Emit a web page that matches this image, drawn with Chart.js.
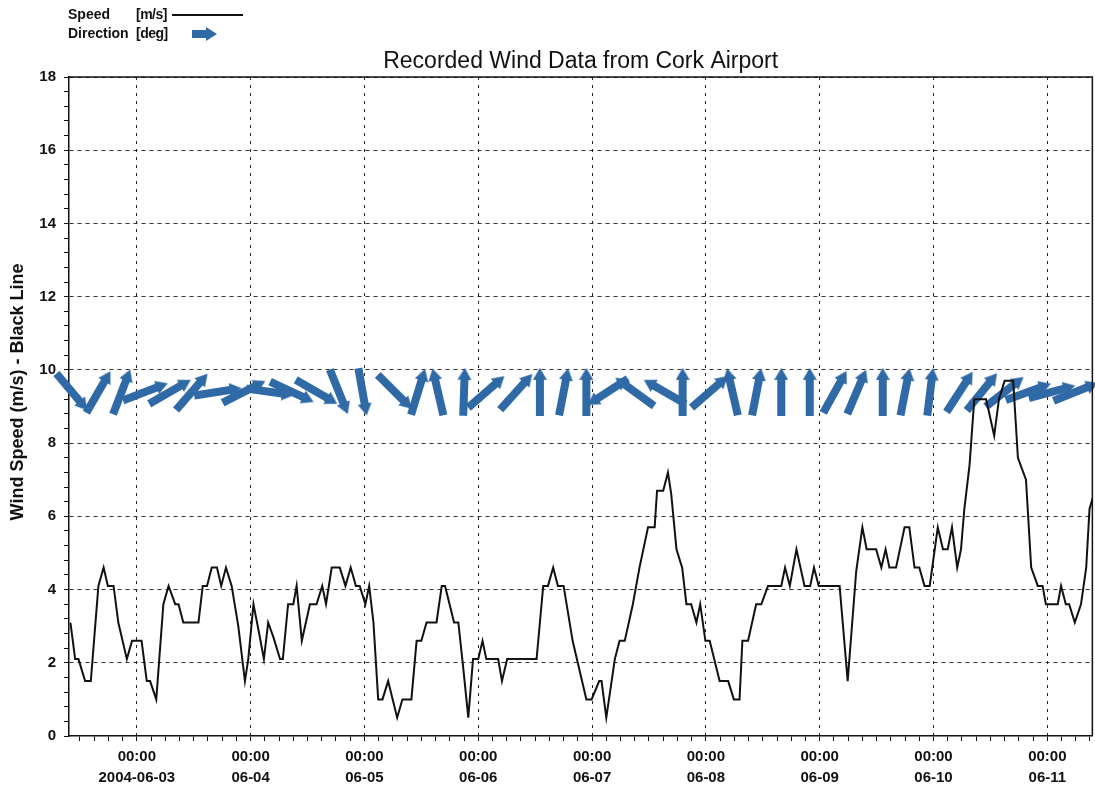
<!DOCTYPE html>
<html>
<head>
<meta charset="utf-8">
<title>Recorded Wind Data from Cork Airport</title>
<script src="https://cdn.jsdelivr.net/npm/chart.js@4.4.1/dist/chart.umd.min.js"></script>
<style>
    body { margin: 0; background: #fff; }
    #wrap { position: relative; width: 1095px; height: 787px; }
    #legend {
        position: absolute; left: 68px; top: 5px;
        font: bold 14px 'Liberation Sans Narrow', 'Liberation Sans', Arial, sans-serif;
        color: #111; line-height: 19px;
    }
    #legend .row { display: flex; align-items: center; height: 19px; }
    #legend .name { width: 68px; }
    #legend .unit { width: 34px; letter-spacing: -0.5px; }
    #legend .line { width: 71px; height: 2px; background: #111; margin-left: 2px; }
    #legend canvas { margin-left: 22px; }
</style>
</head>
<body>
<div id="wrap">
    <canvas id="windChart" width="1095" height="787"></canvas>
    <div id="legend">
        <div class="row"><span class="name">Speed</span><span class="unit">[m/s]</span><span class="line"></span></div>
        <div class="row"><span class="name">Direction</span><span class="unit">[deg]</span><canvas id="legendArrow" width="26" height="14"></canvas></div>
    </div>
</div>
<script>
// Wind data, hours counted from 2004-06-03 00:00
const chartTitle = 'Recorded Wind Data from Cork Airport';
const yAxisTitle = 'Wind Speed (m/s) - Black Line';
const timeLabel = '00:00';
const dayLabels = ['2004-06-03', '06-04', '06-05', '06-06', '06-07', '06-08', '06-09', '06-10', '06-11'];

const speedHours = [
    -14.0, -13.0, -12.3, -10.9, -9.7, -8.1, -7.0, -6.1, -4.9, -3.9, -2.1, -1.0, 1.0, 2.1, 2.8, 4.1,
    5.6, 6.7, 8.1, 8.8, 9.8, 13.0, 13.9, 14.8, 15.8, 16.9, 17.8, 18.8, 20.0, 21.4, 22.8, 23.5,
    24.6, 25.8, 26.8, 27.7, 28.8, 30.2, 30.8, 31.9, 33.0, 33.7, 34.8, 36.5, 37.9, 39.1, 39.9, 41.1,
    42.8, 44.0, 45.1, 46.2, 47.0, 48.2, 49.0, 49.9, 50.9, 51.8, 53.0, 54.9, 56.0, 57.9, 59.0, 60.0,
    61.1, 63.2, 64.3, 65.0, 66.9, 67.8, 68.8, 69.9, 70.9, 72.0, 72.9, 73.7, 76.2, 77.0, 78.1, 84.3,
    85.7, 86.7, 87.8, 88.8, 90.0, 91.9, 94.8, 95.9, 97.5, 98.0, 99.0, 100.8, 101.8, 102.9, 104.6, 106.0,
    107.8, 109.2, 109.7, 111.0, 112.0, 112.7, 113.8, 115.0, 115.9, 116.9, 118.0, 118.8, 119.9, 120.8, 122.9, 124.7,
    125.9, 127.1, 127.7, 128.9, 130.6, 131.7, 133.1, 135.9, 136.7, 137.7, 139.1, 140.8, 142.0, 142.8, 143.8, 148.2,
    149.9, 151.7, 153.0, 153.9, 155.9, 157.0, 157.9, 158.7, 160.1, 161.9, 162.9, 164.0, 165.0, 166.1, 167.2, 168.9,
    170.0, 171.0, 171.9, 173.0, 173.8, 174.5, 175.6, 176.6, 177.3, 179.1, 180.8, 181.8, 183.0, 184.8, 185.8, 187.5,
    188.6, 190.0, 191.0, 191.7, 194.2, 194.9, 195.9, 196.6, 197.8, 199.1, 200.2, 200.9, 201.8
];
const speedValues = [
    3.1, 2.1, 2.1, 1.5, 1.5, 4.1, 4.6, 4.1, 4.1, 3.1, 2.1, 2.6, 2.6, 1.5, 1.5, 1.0,
    3.6, 4.1, 3.6, 3.6, 3.1, 3.1, 4.1, 4.1, 4.6, 4.6, 4.1, 4.6, 4.1, 3.0, 1.5, 2.1,
    3.6, 2.8, 2.1, 3.1, 2.7, 2.1, 2.1, 3.6, 3.6, 4.1, 2.6, 3.6, 3.6, 4.1, 3.6, 4.6,
    4.6, 4.1, 4.6, 4.1, 4.1, 3.6, 4.1, 3.1, 1.0, 1.0, 1.5, 0.5, 1.0, 1.0, 2.6, 2.6,
    3.1, 3.1, 4.1, 4.1, 3.1, 3.1, 1.9, 0.5, 2.1, 2.1, 2.6, 2.1, 2.1, 1.5, 2.1, 2.1,
    4.1, 4.1, 4.6, 4.1, 4.1, 2.6, 1.0, 1.0, 1.5, 1.5, 0.5, 2.1, 2.6, 2.6, 3.6, 4.6,
    5.7, 5.7, 6.7, 6.7, 7.2, 6.6, 5.1, 4.6, 3.6, 3.6, 3.1, 3.6, 2.6, 2.6, 1.5, 1.5,
    1.0, 1.0, 2.6, 2.6, 3.6, 3.6, 4.1, 4.1, 4.6, 4.1, 5.1, 4.1, 4.1, 4.6, 4.1, 4.1,
    1.5, 4.5, 5.7, 5.1, 5.1, 4.6, 5.1, 4.6, 4.6, 5.7, 5.7, 4.6, 4.6, 4.1, 4.1, 5.7,
    5.1, 5.1, 5.7, 4.6, 5.1, 6.2, 7.4, 9.2, 9.2, 9.2, 8.2, 9.2, 9.7, 9.7, 7.6, 7.0,
    4.6, 4.1, 4.1, 3.6, 3.6, 4.1, 3.6, 3.6, 3.1, 3.6, 4.6, 6.2, 6.6
];

// Direction arrows: time, wind direction (deg, blowing from) and the level they are drawn at
const arrowHours = [
    -13.7, -8.1, -3.2, 1.8, 7.0, 11.6, 17.1, 22.6, 28.1, 32.7, 37.9, 42.6, 47.6, 54.4,
    59.3, 63.5, 69.0, 73.7, 80.0, 85.0, 90.0, 94.8, 99.3, 105.0, 111.3, 115.1, 120.8, 125.6,
    130.7, 135.9, 141.9, 147.2, 151.8, 157.3, 162.0, 167.3, 173.5, 178.2, 183.0, 188.0, 193.0, 198.0
];
const arrowDirections = [
    320, 210, 201, 249, 240, 221, 261, 243, 278, 295, 300, 338, 350, 315,
    197, 167, 182, 229, 222, 180, 191, 180, 57, 126, 120, 180, 229, 167,
    191, 180, 180, 209, 203, 180, 191, 187, 213, 219, 232, 250, 255, 248
];
const arrowLevel = 9.4;

const yMax = 18;
const arrowColor = '#2f69a6';

document.addEventListener('DOMContentLoaded', () => {
    const arrowImg = makeArrow(48, 14);
    drawLegendArrow();
    setupChart(arrowImg);
});

// Arrow sprite pointing right, rotated per point by Chart.js
function makeArrow(len, h) {
    const c = document.createElement('canvas');
    c.width = len;
    c.height = h;
    const g = c.getContext('2d');
    g.fillStyle = arrowColor;
    g.fillRect(0, h / 2 - 4, len - 10, 8);
    g.beginPath();
    g.moveTo(len - 12, 0);
    g.lineTo(len, h / 2);
    g.lineTo(len - 12, h);
    g.closePath();
    g.fill();
    return c;
}

function drawLegendArrow() {
    const c = document.getElementById('legendArrow');
    const g = c.getContext('2d');
    g.fillStyle = arrowColor;
    g.fillRect(0, 3, 16, 8);
    g.beginPath();
    g.moveTo(14, 0);
    g.lineTo(25, 7);
    g.lineTo(14, 14);
    g.closePath();
    g.fill();
}

function setupChart(arrowImg) {
    const tickFont = "'Liberation Sans Narrow', 'Liberation Sans', Arial, sans-serif";
    const mainFont = "'Liberation Sans', Arial, sans-serif";

    // Title centred over the plot area, y title beside the axis
    const plotTitles = {
        id: 'plotTitles',
        afterDraw(chart) {
            const { ctx, chartArea } = chart;
            ctx.save();
            ctx.fillStyle = '#111';
            ctx.textAlign = 'center';
            ctx.font = '23px ' + mainFont;
            ctx.textBaseline = 'alphabetic';
            ctx.fillText(chartTitle, (chartArea.left + chartArea.right) / 2, chartArea.top - 9);
            ctx.translate(18, 392);
            ctx.rotate(-Math.PI / 2);
            ctx.font = 'bold 18px ' + mainFont;
            ctx.textBaseline = 'middle';
            ctx.fillText(yAxisTitle, 0, 0);
            ctx.restore();
        }
    };

    const frame = {
        id: 'frame',
        afterDatasetsDraw(chart) {
            const { ctx, chartArea } = chart;
            ctx.save();
            ctx.strokeStyle = '#111';
            ctx.lineWidth = 1.5;
            ctx.beginPath();
            ctx.moveTo(chartArea.left, chartArea.top);
            ctx.lineTo(chartArea.right, chartArea.top);
            ctx.lineTo(chartArea.right, chartArea.bottom);
            ctx.stroke();
            ctx.restore();
        }
    };

    new Chart(document.getElementById('windChart'), {
        type: 'line',
        data: {
            datasets: [{
                label: 'Speed [m/s]',
                data: speedHours.map((h, i) => ({ x: h, y: speedValues[i] })),
                borderColor: '#111',
                borderWidth: 2,
                pointRadius: 0,
                tension: 0,
                order: 1
            }, {
                label: 'Direction [deg]',
                data: arrowHours.map(h => ({ x: h, y: arrowLevel })),
                showLine: false,
                pointStyle: arrowImg,
                rotation: ctx => arrowDirections[ctx.dataIndex] + 90,
                pointRadius: 10,
                clip: false,
                order: 2
            }]
        },
        options: {
            responsive: false,
            animation: false,
            layout: { autoPadding: false, padding: { top: 77, right: 2, left: 0, bottom: 0 } },
            plugins: {
                legend: { display: false },
                tooltip: { enabled: false }
            },
            scales: {
                x: {
                    type: 'linear',
                    min: -14.3,
                    max: 201.5,
                    afterBuildTicks: scale => {
                        const ticks = [];
                        for (let h = -12; h <= scale.max; h += 3) ticks.push({ value: h });
                        scale.ticks = ticks;
                    },
                    afterFit: scale => { scale.height = 51; },
                    ticks: {
                        autoSkip: false,
                        maxRotation: 0,
                        color: '#111',
                        padding: 5,
                        font: { family: tickFont, size: 15, weight: 'bold', lineHeight: 1.4 },
                        callback: value => (value % 24 === 0 ? [timeLabel, dayLabels[value / 24]] : '')
                    },
                    grid: {
                        color: ctx => (ctx.tick && ctx.tick.value % 24 === 0 ? '#222' : 'rgba(0,0,0,0)'),
                        tickColor: '#111',
                        tickLength: 5,
                        lineWidth: 1
                    },
                    border: { color: '#111', width: 1.5, dash: [3, 5] }
                },
                y: {
                    min: 0,
                    max: yMax,
                    afterBuildTicks: scale => {
                        const ticks = [];
                        for (let i = 0; i <= 45; i++) ticks.push({ value: i * 0.4 });
                        scale.ticks = ticks;
                    },
                    afterFit: scale => { scale.width = 69; },
                    ticks: {
                        autoSkip: false,
                        color: '#111',
                        padding: 8,
                        font: { family: mainFont, size: 15, weight: 'bold' },
                        callback: (value, index) => (index % 5 === 0 ? String(Math.round(value)) : '')
                    },
                    grid: {
                        color: ctx => (ctx.index % 5 === 0 && ctx.index > 0 ? '#333' : 'rgba(0,0,0,0)'),
                        tickColor: '#111',
                        tickLength: 5,
                        lineWidth: 1
                    },
                    border: { color: '#111', width: 1.5, dash: [4, 4] }
                }
            }
        },
        plugins: [plotTitles, frame]
    });
}
</script>
</body>
</html>
